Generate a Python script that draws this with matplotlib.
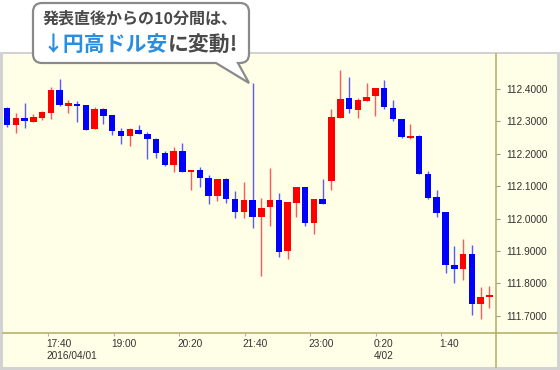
import matplotlib
matplotlib.use('Agg')
import matplotlib.pyplot as plt
from matplotlib.patches import Rectangle, PathPatch
from matplotlib.path import Path
from matplotlib.lines import Line2D
import matplotlib.transforms as mtransforms

# ---- data (USD/JPY 10-min candles) ----
opens = [112.340, 112.288, 112.310, 112.299, 112.311, 112.327, 112.396, 112.348, 112.354, 112.350,
         112.276, 112.339, 112.319, 112.270, 112.255, 112.273, 112.262, 112.245, 112.201, 112.165,
         112.208, 112.144, 112.150, 112.125, 112.070, 112.121, 112.059, 112.021, 112.056, 112.006,
         112.037, 112.057, 111.900, 112.049, 112.096, 111.987, 112.059, 112.117, 112.310, 112.371,
         112.336, 112.364, 112.377, 112.404, 112.340, 112.307, 112.250, 112.255, 112.138, 112.066,
         112.019, 111.857, 111.843, 111.890, 111.735, 111.757]
highs = [112.343, 112.325, 112.358, 112.323, 112.333, 112.405, 112.431, 112.366, 112.362, 112.351,
         112.343, 112.340, 112.320, 112.279, 112.280, 112.289, 112.268, 112.248, 112.210, 112.220,
         112.232, 112.150, 112.158, 112.134, 112.121, 112.124, 112.085, 112.114, 112.418, 112.064,
         112.157, 112.080, 112.050, 112.096, 112.098, 112.059, 112.122, 112.337, 112.459, 112.436,
         112.373, 112.418, 112.404, 112.428, 112.366, 112.307, 112.292, 112.258, 112.147, 112.088,
         112.019, 111.915, 111.936, 111.918, 111.790, 111.793]
lows = [112.284, 112.265, 112.279, 112.299, 112.304, 112.306, 112.349, 112.327, 112.297, 112.272,
        112.275, 112.293, 112.257, 112.230, 112.224, 112.261, 112.183, 112.188, 112.161, 112.145,
        112.144, 112.088, 112.098, 112.045, 112.054, 112.047, 112.001, 112.001, 111.972, 111.823,
        111.978, 111.882, 111.875, 112.006, 111.978, 111.952, 112.045, 112.088, 112.310, 112.327,
        112.310, 112.364, 112.317, 112.337, 112.300, 112.250, 112.246, 112.137, 112.059, 112.004,
        111.831, 111.802, 111.810, 111.701, 111.689, 111.723]
closes = [112.288, 112.310, 112.302, 112.313, 112.329, 112.396, 112.350, 112.356, 112.348, 112.273,
          112.339, 112.318, 112.269, 112.255, 112.275, 112.262, 112.246, 112.201, 112.165, 112.208,
          112.144, 112.150, 112.124, 112.070, 112.121, 112.059, 112.021, 112.057, 112.006, 112.032,
          112.057, 111.898, 112.050, 112.096, 111.987, 112.059, 112.045, 112.313, 112.368, 112.338,
          112.366, 112.374, 112.404, 112.343, 112.306, 112.253, 112.255, 112.138, 112.062, 112.018,
          111.857, 111.843, 111.890, 111.735, 111.759, 111.764]
price_ticks = [111.7, 111.8, 111.9, 112.0, 112.1, 112.2, 112.3, 112.4]
time_labels = ['17:40\n2016/04/01', '19:00', '20:20', '21:40', '23:00', '0:20\n4/02', '1:40']
callout_line1 = '発表直後からの10分間は、'
callout_blue = '↓円高ドル安'
callout_rest = 'に変動!'

# ---- styling ----
plt.rcParams['font.family'] = ['Liberation Sans', 'DejaVu Sans']
CJK = ['Noto Sans CJK JP', 'DejaVu Sans']
UP, DOWN = '#ff0000', '#0000ff'
UP_W, DOWN_W = '#ff5a5a', '#5a5aff'
OLIVE = '#b3ab62'

W, H = 560, 370
fig = plt.figure(figsize=(W / 100, H / 100), dpi=100)
fig.patch.set_facecolor('white')


def fx(x):
    return x / W


def fy(y):
    return 1 - y / H


# panel background with light grey border
fig.add_artist(Rectangle((0, 0), 1, fy(52), transform=fig.transFigure,
                         facecolor='#d2d2d2', edgecolor='none', zorder=-3))
fig.add_artist(Rectangle((fx(3), fy(367)), fx(557) - fx(3), fy(54) - fy(367),
                         transform=fig.transFigure, facecolor='#fffee6',
                         edgecolor='none', zorder=-2))

# ---- axes ----
ax = fig.add_axes([fx(3), fy(333), fx(496) - fx(3), fy(54) - fy(333)])
ax.patch.set_visible(False)
for s in ax.spines.values():
    s.set_visible(False)

n = len(opens)
xs = list(range(n))
step_px = 8.77
ax.set_xlim(-4 / step_px, 489 / step_px)
ax.set_ylim(112.4 - (333 - 89) / 323.8, 112.4 + (89 - 54) / 323.8)

for i in xs:
    o, h, l, c = opens[i], highs[i], lows[i], closes[i]
    up = c > o
    ax.vlines(i, l, h, colors=UP_W if up else DOWN_W, linewidth=1.0, zorder=2)
    ax.bar(i, abs(c - o), bottom=min(o, c), width=0.74,
           color=UP if up else DOWN, edgecolor='none', zorder=3)

# y axis on the right
ax.yaxis.tick_right()
ax.set_yticks(price_ticks)
ax.set_yticklabels([f'{v:.4f}' for v in price_ticks])
ax.tick_params(axis='y', length=2.6, width=0.8, color='#9a9a9a', pad=5.0,
               labelsize=7.3, labelcolor='#333333')

# x axis ticks
tick_start, tick_step = 4.71, 7.463
tick_pos = [tick_start + tick_step * k for k in range(len(time_labels))]
ax.set_xticks(tick_pos)
ax.set_xticklabels(time_labels)
ax.tick_params(axis='x', length=2.4, width=0.8, color='#b0b0b0', pad=2.2,
               labelsize=7.3, labelcolor='#333333')
off = mtransforms.ScaledTranslation(-2 / 100, 0, fig.dpi_scale_trans)
for lbl in ax.get_xticklabels():
    lbl.set_ha('left')
    lbl.set_multialignment('left')
    lbl.set_transform(lbl.get_transform() + off)

# olive frame lines
fig.add_artist(Line2D([fx(496), fx(496)], [fy(54), fy(367)], transform=fig.transFigure,
                      color=OLIVE, linewidth=1.1, zorder=4))
fig.add_artist(Line2D([fx(3), fx(557)], [fy(333), fy(333)], transform=fig.transFigure,
                      color=OLIVE, linewidth=1.1, zorder=4))

# ---- callout bubble ----
l, t, r, b, rad = 33, 3, 249, 63, 9
x1, x2, tipx, tipy = 216, 238, 249, 83


def P(x, y):
    return (fx(x), fy(y))


verts = [P(l + rad, t), P(r - rad, t), P(r, t), P(r, t + rad), P(r, b - rad),
         P(r, b), P(r - rad, b), P(x2, b), P(tipx, tipy), P(x1, b), P(l + rad, b),
         P(l, b), P(l, b - rad), P(l, t + rad), P(l, t), P(l + rad, t), P(l + rad, t)]
codes = [Path.MOVETO, Path.LINETO, Path.CURVE3, Path.CURVE3, Path.LINETO,
         Path.CURVE3, Path.CURVE3, Path.LINETO, Path.LINETO, Path.LINETO, Path.LINETO,
         Path.CURVE3, Path.CURVE3, Path.LINETO, Path.CURVE3, Path.CURVE3, Path.CLOSEPOLY]
bubble = PathPatch(Path(verts, codes), transform=fig.transFigure, facecolor='white',
                   edgecolor='#8a8a8a', linewidth=1.6, zorder=10)
fig.add_artist(bubble)

renderer = fig.canvas.get_renderer()
target_w = 196
text_x0 = 43
t1 = fig.text(fx(text_x0), fy(19), callout_line1, ha='left', va='center', fontsize=11.5,
              weight='bold', color='#4a4a4a', family=CJK, zorder=11)
w1 = t1.get_window_extent(renderer).width
t1.set_fontsize(11.5 * target_w / w1)

t2 = fig.text(fx(text_x0), fy(44), callout_blue, ha='left', va='center', fontsize=15,
              weight='bold', color='#2a8ee0', family=CJK, zorder=11)
t3 = fig.text(fx(text_x0), fy(44), callout_rest, ha='left', va='center', fontsize=15,
              weight='bold', color='#4a4a4a', family=CJK, zorder=11)
w2 = t2.get_window_extent(renderer).width + t3.get_window_extent(renderer).width
fs2 = 15 * target_w / w2
t2.set_fontsize(fs2)
t3.set_fontsize(fs2)
wb = t2.get_window_extent(renderer).width
t3.set_x(fx(text_x0 + wb))

fig.savefig('out.png', dpi=100)
